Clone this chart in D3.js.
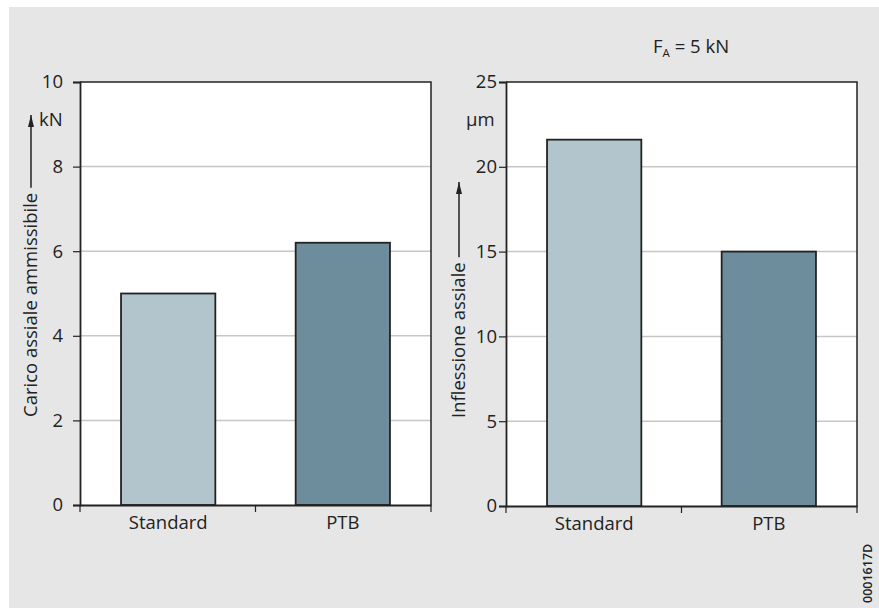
<!DOCTYPE html>
<html><head><meta charset="utf-8">
<script src="https://cdn.jsdelivr.net/npm/d3@7"></script>
<style>body{margin:0;background:#fff}svg{display:block}text{font-family:"Open Sans",sans-serif;fill:#222}</style>
</head><body>
<svg id="c" width="879" height="608"></svg>
<script>
const categories = ["Standard", "PTB"];
const loadValues = [5.0, 6.2];        // kN
const deflectionValues = [21.6, 15.0]; // µm
const loadTicks = [0, 2, 4, 6, 8, 10];
const deflTicks = [0, 5, 10, 15, 20, 25];
const barColors = ["#b3c5cc", "#6d8d9c"];

const FS = "18.5px";
const svg = d3.select("#c");
svg.append("rect").attr("x", 9).attr("y", 7).attr("width", 870).attr("height", 601).attr("fill", "#e6e6e6");

function panel(x0, x1, y0, y1, values, domainMax, ticks, pad) {
  const g = svg.append("g");
  g.append("rect").attr("x", x0).attr("y", y0).attr("width", x1 - x0).attr("height", y1 - y0).attr("fill", "#fff");
  const y = d3.scaleLinear().domain([0, domainMax]).range([y1, y0]);
  const x = d3.scaleBand().domain(categories).range([x0, x1]).paddingInner(0.46).paddingOuter(0.235);
  g.selectAll(".grid").data(ticks.filter(t => t > 0 && t < domainMax)).join("line")
    .attr("x1", x0).attr("x2", x1).attr("y1", d => y(d)).attr("y2", d => y(d))
    .attr("stroke", "#c6c6c6").attr("stroke-width", 1.5);
  g.selectAll(".bar").data(values).join("rect")
    .attr("x", (d, i) => x(categories[i])).attr("width", x.bandwidth())
    .attr("y", d => y(d)).attr("height", d => y(0) - y(d))
    .attr("fill", (d, i) => barColors[i]).attr("stroke", "#222").attr("stroke-width", 1.8);
  g.append("path").attr("d", `M${x0},${y0}H${x1}V${y1}`).attr("fill", "none").attr("stroke", "#222").attr("stroke-width", 1.5);
  const ya = g.append("g").attr("transform", `translate(${x0},0)`)
    .call(d3.axisLeft(y).tickValues(ticks).tickSize(7).tickPadding(pad).tickFormat(d3.format("d")));
  ya.select(".domain").attr("stroke", "#222").attr("stroke-width", 1.8);
  ya.selectAll(".tick line").attr("stroke", "#222").attr("stroke-width", 1.2);
  ya.selectAll("text").style("font-size", FS).attr("fill", "#222");
  const xa = g.append("g").attr("transform", `translate(0,${y1})`)
    .call(d3.axisBottom(x).tickSize(0).tickPadding(11));
  xa.select(".domain").attr("stroke", "#222").attr("stroke-width", 2.2);
  xa.selectAll("text").style("font-size", FS).attr("fill", "#222");
  const mid = (x0 + x1) / 2;
  g.selectAll(".sep").data([x0, mid, x1]).join("line")
    .attr("x1", d => d).attr("x2", d => d).attr("y1", y1).attr("y2", y1 + 7)
    .attr("stroke", "#222").attr("stroke-width", 1.2);
  return {x, y};
}

panel(80, 431, 82, 505, loadValues, 10, loadTicks, 10);
panel(506, 857, 82, 506, deflectionValues, 25, deflTicks, 2);

svg.append("defs").append("marker").attr("id", "ah").attr("viewBox", "0 0 10 20")
  .attr("refX", 5).attr("refY", 0).attr("markerWidth", 6).attr("markerHeight", 15)
  .attr("markerUnits", "userSpaceOnUse").attr("orient", "0")
  .append("path").attr("d", "M0,20 L5,0 L10,20 Z").attr("fill", "#222");

function yLabel(tx, bottom, text, lineX, arrowTop) {
  const t = svg.append("text").attr("transform", `translate(${tx},${bottom}) rotate(-90)`)
    .attr("text-anchor", "start").style("font-size", FS).text(text);
  const len = t.node().getComputedTextLength();
  svg.append("line").attr("x1", lineX).attr("x2", lineX).attr("y1", bottom - len - 5).attr("y2", arrowTop)
    .attr("stroke", "#222").attr("stroke-width", 1.5).attr("marker-end", "url(#ah)");
}
yLabel(37, 417, "Carico assiale ammissibile", 31, 115);
yLabel(465, 418, "Inflessione assiale", 459, 182);

svg.append("text").attr("x", 39).attr("y", 126).style("font-size", FS).text("kN");
svg.append("text").attr("x", 466).attr("y", 126).style("font-size", FS).text("µm");

// F_A = 5 kN
const fa = svg.append("text").attr("x", 653).attr("y", 53).style("font-size", FS);
fa.append("tspan").text("F");
fa.append("tspan").attr("dy", 4).style("font-size", "11.5px").text("A");
fa.append("tspan").attr("dy", -4).text(" = 5 kN");

svg.append("text").attr("transform", "translate(872,603) rotate(-90)").attr("text-anchor", "start")
  .style("font-size", "12.5px").style("font-weight", "600").text("0001617D");
</script>
</body></html>
